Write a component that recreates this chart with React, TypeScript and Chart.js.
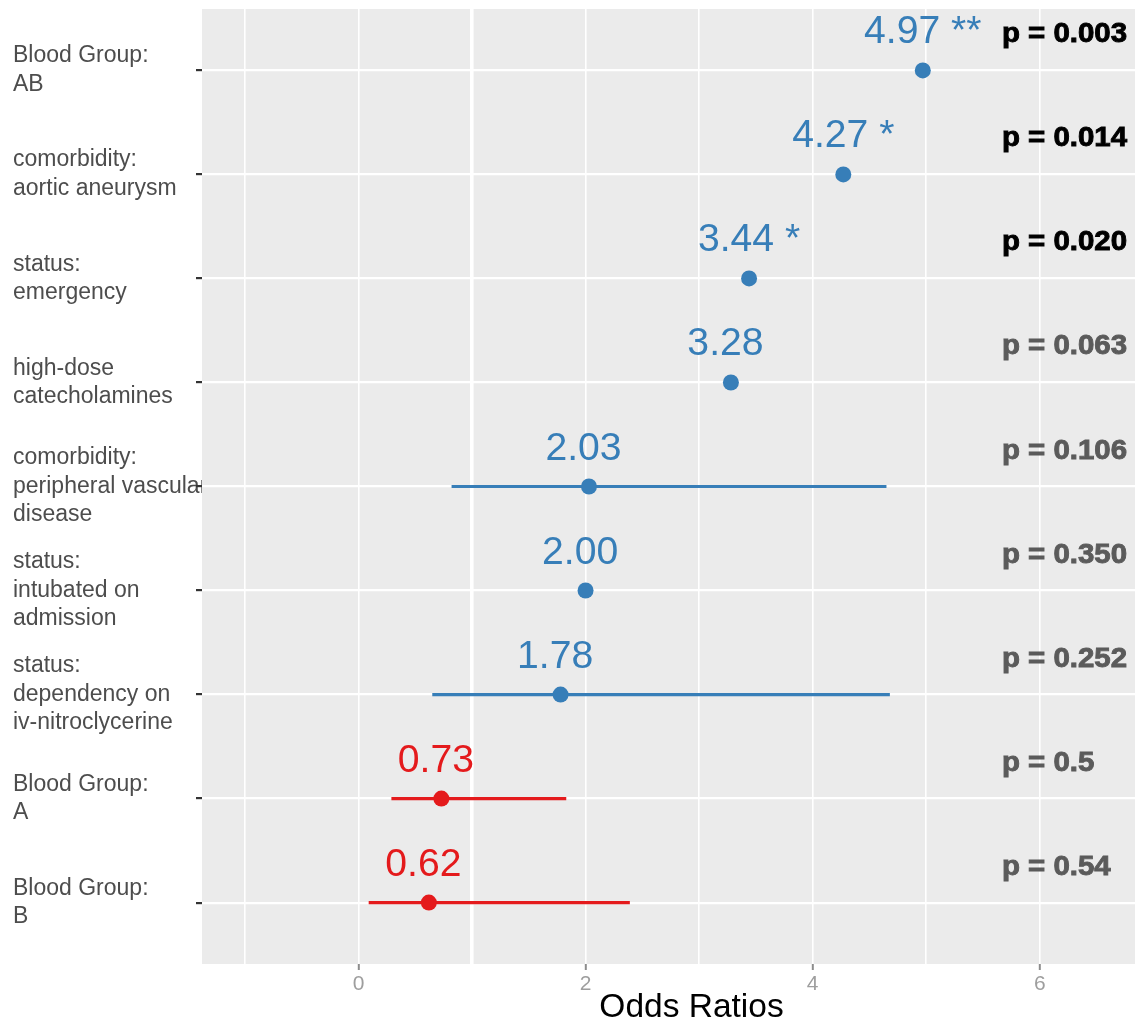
import React, { useEffect, useRef } from "react";
import { Chart, registerables, layouts } from "chart.js";

Chart.register(...registerables);

// ---------- data ----------
const CATEGORIES: string[][] = [
  ["Blood Group:", "AB"],
  ["comorbidity:", "aortic aneurysm"],
  ["status:", "emergency"],
  ["high-dose", "catecholamines"],
  ["comorbidity:", "peripheral vascular", "disease"],
  ["status:", "intubated on", "admission"],
  ["status:", "dependency on", "iv-nitroclycerine"],
  ["Blood Group:", "A"],
  ["Blood Group:", "B"],
];
const ODDS_RATIOS: number[] = [4.97, 4.27, 3.44, 3.28, 2.03, 2.0, 1.78, 0.73, 0.62];
const CI_LOW: (number | null)[] = [null, null, null, null, 0.82, null, 0.65, 0.29, 0.09];
const CI_HIGH: (number | null)[] = [null, null, null, null, 4.65, null, 4.68, 1.83, 2.39];
const STARS: string[] = ["**", "*", "*", "", "", "", "", "", ""];
const P_VALUES: number[] = [0.003, 0.014, 0.02, 0.063, 0.106, 0.35, 0.252, 0.5, 0.54];
const P_LABELS: string[] = [
  "p = 0.003",
  "p = 0.014",
  "p = 0.020",
  "p = 0.063",
  "p = 0.106",
  "p = 0.350",
  "p = 0.252",
  "p = 0.5",
  "p = 0.54",
];
const X_GRID: number[] = [-1, 0, 1, 2, 3, 4, 5, 6, 7];
const X_TICK_LABELS: number[] = [0, 2, 4, 6];
const X_TITLE = "Odds Ratios";

// ---------- style ----------
const BLUE = "#377EB8";
const RED = "#E41A1C";
const FONT = '"Liberation Sans", Arial, Helvetica, sans-serif';
const X_MIN = -1.378;
const X_MAX = 7.244;
const Y_MIN = -0.59;
const Y_MAX = 8.59;
const P_X = 5.667;

const panelBox: any = {
  position: "chartArea",
  weight: 0,
  fullSize: false,
  options: {},
  isHorizontal: () => false,
  update() {},
  draw() {},
  _layers() {
    const self = this;
    return [
      {
        z: -1.5,
        draw: (area: any) => {
          const ctx: CanvasRenderingContext2D = self.chart.ctx;
          ctx.save();
          ctx.fillStyle = "#EBEBEB";
          ctx.fillRect(area.left, area.top, area.right - area.left, area.bottom - area.top);
          ctx.restore();
        },
      },
    ];
  },
};

const panelPlugin = {
  id: "panelBg",
  beforeInit(chart: any) {
    const box = Object.create(panelBox);
    box.chart = chart;
    box.options = {};
    layouts.addBox(chart, box);
  },
};

const labelPlugin = {
  id: "forestLabels",
  afterDatasetsDraw(chart: any) {
    const { ctx } = chart;
    const x = chart.scales.x;
    const y = chart.scales.y;
    ctx.save();
    ODDS_RATIOS.forEach((v, i) => {
      const px = x.getPixelForValue(v);
      const py = y.getPixelForValue(i);
      ctx.save();
      ctx.translate(px, py - 27);
      ctx.scale(1.03, 1);
      ctx.font = `38px ${FONT}`;
      ctx.fillStyle = v >= 1 ? BLUE : RED;
      ctx.textAlign = "center";
      ctx.textBaseline = "alphabetic";
      ctx.fillText(`${v.toFixed(2)} ${STARS[i]}`, 0, 0);
      ctx.restore();

      const col = P_VALUES[i] < 0.05 ? "#000000" : "#5B5B5B";
      ctx.save();
      ctx.translate(x.getPixelForValue(P_X), py - 28);
      ctx.scale(1.07, 1);
      ctx.font = `bold 27.5px ${FONT}`;
      ctx.textAlign = "left";
      ctx.fillStyle = col;
      ctx.strokeStyle = col;
      ctx.lineWidth = 0.9;
      ctx.fillText(P_LABELS[i], 0, 0);
      ctx.strokeText(P_LABELS[i], 0, 0);
      ctx.restore();
    });
    ctx.restore();
  },
};

export default function App() {
  const ref = useRef<HTMLCanvasElement | null>(null);

  useEffect(() => {
    if (!ref.current) return;
    const pointColors = ODDS_RATIOS.map((v) => (v >= 1 ? BLUE : RED));
    const datasets: any[] = [
      {
        label: "Odds ratio",
        data: ODDS_RATIOS.map((v, i) => ({ x: v, y: i })),
        pointRadius: 8,
        pointHoverRadius: 8,
        pointBorderWidth: 0,
        pointBackgroundColor: pointColors,
        pointBorderColor: pointColors,
        order: 0,
      },
    ];
    ODDS_RATIOS.forEach((v, i) => {
      const lo = CI_LOW[i];
      const hi = CI_HIGH[i];
      if (lo === null || hi === null) return;
      datasets.push({
        label: `CI ${i}`,
        data: [
          { x: lo, y: i },
          { x: hi, y: i },
        ],
        showLine: true,
        borderColor: v >= 1 ? BLUE : RED,
        borderWidth: 3.2,
        pointRadius: 0,
        pointHoverRadius: 0,
        order: 1,
      });
    });

    const chart = new Chart(ref.current, {
      type: "scatter",
      data: { datasets },
      options: {
        responsive: false,
        animation: false,
        devicePixelRatio: 1,
        layout: { autoPadding: false, padding: { left: 13, top: 9, right: 0, bottom: 0 } },
        plugins: {
          legend: { display: false },
          tooltip: { enabled: false },
        },
        scales: {
          x: {
            type: "linear",
            min: X_MIN,
            max: X_MAX,
            bounds: "data",
            afterBuildTicks: (s: any) => {
              s.ticks = X_GRID.map((v) => ({ value: v }));
            },
            afterFit: (s: any) => {
              s.height = 59;
              s.paddingLeft = 0;
              s.paddingRight = 0;
            },
            grid: {
              color: "#FFFFFF",
              lineWidth: (c: any) => (c.tick && c.tick.value === 1 ? 3.6 : 1.6),
              drawTicks: true,
              tickLength: 6,
              tickWidth: 2,
              tickColor: (c: any) =>
                c.tick && X_TICK_LABELS.includes(c.tick.value) ? "#8C8C8C" : "rgba(0,0,0,0)",
            },
            border: { display: false },
            ticks: {
              autoSkip: false,
              maxRotation: 0,
              padding: 2,
              color: "#9E9E9E",
              font: { family: FONT, size: 21 },
              callback: (v: any) => (X_TICK_LABELS.includes(Number(v)) ? String(v) : ""),
            },
            title: {
              display: true,
              text: X_TITLE,
              color: "#000000",
              font: { family: FONT, size: 33.5, lineHeight: 1 },
              padding: { top: 0, bottom: -2 },
            },
          },
          y: {
            type: "linear",
            min: Y_MIN,
            max: Y_MAX,
            bounds: "data",
            reverse: true,
            afterBuildTicks: (s: any) => {
              s.ticks = CATEGORIES.map((_, i) => ({ value: i }));
            },
            afterFit: (s: any) => {
              s.width = 189;
              s.paddingTop = 0;
              s.paddingBottom = 0;
            },
            grid: {
              color: "#FFFFFF",
              lineWidth: 2.2,
              drawTicks: true,
              tickLength: 6,
              tickWidth: 2.2,
              tickColor: "#333333",
            },
            border: { display: false },
            ticks: {
              autoSkip: false,
              crossAlign: "far",
              z: -2,
              color: "#4D4D4D",
              font: { family: FONT, size: 23, lineHeight: 1.24 },
              callback: (v: any) => CATEGORIES[Number(v)] ?? "",
            },
          },
        },
      } as any,
      plugins: [panelPlugin, labelPlugin],
    });

    return () => chart.destroy();
  }, []);

  return (
    <div
      style={{
        position: "absolute",
        left: 0,
        top: 0,
        width: 1135,
        height: 1023,
        overflow: "hidden",
        background: "#FFFFFF",
      }}
    >
      <canvas ref={ref} width={1181} height={1023} style={{ display: "block" }} />
    </div>
  );
}
